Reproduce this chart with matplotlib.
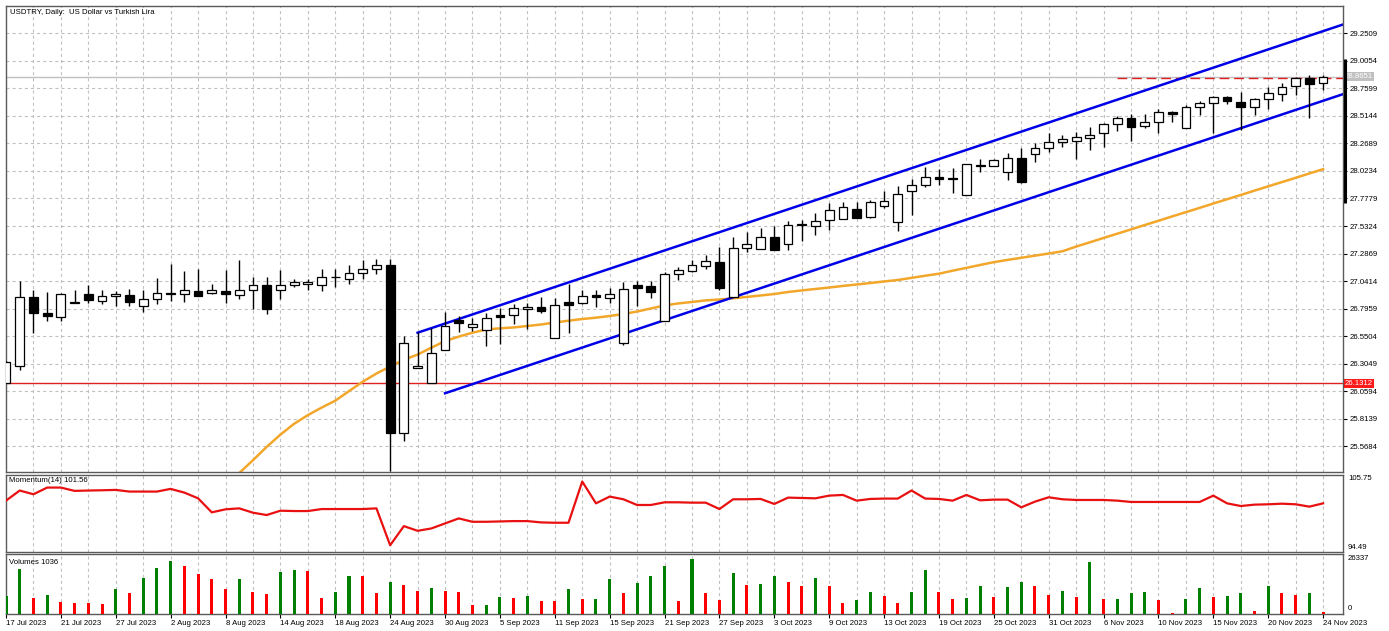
import numpy as np
import matplotlib.pyplot as plt
from matplotlib.transforms import blended_transform_factory

plt.rcParams['font.family'] = ['Liberation Sans', 'DejaVu Sans']
plt.rcParams['lines.scale_dashes'] = False

# daily USDTRY bars, 17 Jul 2023 .. 24 Nov 2023
opens = [26.131, 26.281, 26.898, 26.760, 26.718, 26.844, 26.922, 26.865, 26.907, 26.913,
         26.820, 26.883, 26.937, 26.925, 26.952, 26.934, 26.952, 26.919, 26.958, 27.002,
         26.958, 27.006, 27.012, 27.002, 27.074, 27.062, 27.113, 27.152, 27.182, 25.685,
         26.263, 26.131, 26.425, 26.694, 26.631, 26.601, 26.741, 26.738, 26.788, 26.806,
         26.538, 26.854, 26.845, 26.913, 26.892, 26.491, 27.006, 26.997, 26.684, 27.107,
         27.131, 27.180, 27.212, 26.900, 27.340, 27.331, 27.436, 27.370, 27.537, 27.531,
         27.584, 27.599, 27.680, 27.614, 27.709, 27.570, 27.843, 27.894, 27.971, 27.956,
         27.808, 28.072, 28.063, 28.016, 28.141, 28.171, 28.224, 28.278, 28.293, 28.313,
         28.364, 28.438, 28.492, 28.423, 28.462, 28.549, 28.403, 28.596, 28.626, 28.680,
         28.641, 28.596, 28.662, 28.709, 28.781, 28.849, 28.810]
highs = [26.330, 27.038, 26.958, 26.946, 26.937, 26.958, 27.002, 26.958, 26.952, 26.973,
         26.964, 27.068, 27.197, 27.128, 27.152, 27.017, 27.137, 27.227, 27.077, 27.077,
         27.137, 27.062, 27.062, 27.152, 27.152, 27.182, 27.227, 27.242, 27.242, 26.553,
         26.584, 26.623, 26.763, 26.733, 26.714, 26.759, 26.797, 26.833, 26.848, 26.898,
         26.887, 27.012, 26.958, 26.958, 26.982, 27.035, 27.041, 27.041, 27.125, 27.166,
         27.226, 27.272, 27.346, 27.430, 27.480, 27.519, 27.531, 27.576, 27.584, 27.644,
         27.739, 27.748, 27.748, 27.763, 27.843, 27.888, 27.948, 28.061, 28.037, 28.046,
         28.081, 28.126, 28.126, 28.180, 28.224, 28.275, 28.364, 28.343, 28.373, 28.418,
         28.447, 28.513, 28.531, 28.531, 28.572, 28.560, 28.611, 28.650, 28.691, 28.691,
         28.727, 28.671, 28.775, 28.805, 28.858, 28.879, 28.879]
lows = [26.131, 26.248, 26.574, 26.688, 26.682, 26.844, 26.847, 26.838, 26.823, 26.817,
        26.763, 26.838, 26.868, 26.853, 26.904, 26.925, 26.844, 26.883, 26.793, 26.748,
        26.883, 26.987, 26.964, 26.952, 26.987, 27.012, 27.062, 27.107, 25.345, 25.616,
        26.263, 26.131, 26.425, 26.583, 26.595, 26.461, 26.482, 26.660, 26.610, 26.759,
        26.538, 26.580, 26.833, 26.809, 26.848, 26.470, 26.818, 26.887, 26.684, 27.047,
        27.125, 27.153, 26.965, 26.900, 27.302, 27.331, 27.317, 27.317, 27.400, 27.451,
        27.495, 27.599, 27.608, 27.608, 27.689, 27.486, 27.629, 27.882, 27.897, 27.828,
        27.808, 28.016, 28.063, 27.947, 27.912, 28.099, 28.194, 28.239, 28.129, 28.209,
        28.239, 28.382, 28.293, 28.403, 28.364, 28.462, 28.403, 28.522, 28.358, 28.617,
        28.388, 28.522, 28.572, 28.650, 28.700, 28.492, 28.745]
closes = [26.320, 26.898, 26.757, 26.727, 26.928, 26.859, 26.874, 26.904, 26.922, 26.856,
          26.883, 26.937, 26.928, 26.964, 26.910, 26.961, 26.928, 26.958, 27.002, 26.793,
          27.009, 27.030, 27.030, 27.077, 27.080, 27.116, 27.152, 27.182, 25.685, 26.488,
          26.281, 26.398, 26.640, 26.664, 26.663, 26.708, 26.723, 26.797, 26.806, 26.771,
          26.830, 26.824, 26.910, 26.898, 26.928, 26.967, 26.976, 26.946, 27.101, 27.137,
          27.181, 27.224, 26.980, 27.337, 27.376, 27.430, 27.317, 27.540, 27.546, 27.576,
          27.674, 27.704, 27.608, 27.742, 27.757, 27.817, 27.894, 27.971, 27.953, 27.950,
          28.081, 28.067, 28.120, 28.141, 27.927, 28.224, 28.278, 28.305, 28.322, 28.340,
          28.438, 28.492, 28.418, 28.462, 28.551, 28.534, 28.590, 28.632, 28.680, 28.650,
          28.590, 28.662, 28.715, 28.769, 28.849, 28.799, 28.8651]

# moving average (orange), visible from bar 17 on
ma_first_bar = 17
ma_values = [25.330, 25.444, 25.563, 25.672, 25.769, 25.846, 25.913, 25.975, 26.060, 26.144,
             26.217, 26.279, 26.340, 26.386, 26.447, 26.506, 26.546, 26.581, 26.610, 26.620,
             26.628, 26.641, 26.654, 26.672, 26.688, 26.703, 26.715, 26.730, 26.748, 26.770,
             26.797, 26.824, 26.842, 26.855, 26.869, 26.877, 26.888, 26.900, 26.913, 26.926,
             26.944, 26.958, 26.971, 26.984, 26.998, 27.011, 27.024, 27.038, 27.051, 27.070,
             27.089, 27.107, 27.134, 27.159, 27.185, 27.210, 27.230, 27.249, 27.268, 27.287,
             27.307, 27.349, 27.387, 27.426, 27.464, 27.502, 27.541, 27.579, 27.618, 27.656,
             27.694, 27.733, 27.771, 27.809, 27.848, 27.886, 27.924, 27.962, 28.001, 28.039]

momentum = [101.95, 103.42, 102.88, 103.85, 103.85, 103.37, 103.42, 103.46, 103.51, 103.27,
            103.27, 103.27, 103.66, 103.12, 102.29, 100.25, 100.69, 100.83, 100.20, 99.86,
            100.49, 100.44, 100.44, 100.73, 100.73, 100.73, 100.73, 100.83, 95.47, 98.25,
            97.57, 97.91, 98.64, 99.37, 98.88, 98.88, 98.93, 98.98, 98.98, 98.79,
            98.74, 98.74, 104.73, 101.56, 102.54, 102.15, 101.32, 101.32, 101.71, 101.71,
            101.66, 101.66, 100.73, 102.15, 102.15, 102.20, 101.47, 102.39, 102.34, 102.29,
            102.68, 102.78, 101.95, 102.20, 102.25, 102.25, 103.42, 102.25, 102.20, 101.95,
            102.78, 102.00, 102.10, 102.10, 100.98, 101.81, 102.44, 102.15, 102.05, 102.05,
            102.05, 101.95, 101.76, 101.76, 101.76, 101.76, 101.76, 101.76, 102.68, 101.56,
            101.17, 101.37, 101.42, 101.51, 101.42, 101.08, 101.56]

volumes = [8700, 21800, 7850, 9150, 5780, 5450, 5450, 4970, 12040, 9950,
           17500, 22000, 25350, 23100, 19100, 16690, 12040, 16690, 10430, 9630,
           20220, 21190, 20700, 7850, 10750, 18300, 18300, 9950, 15250, 14130,
           11240, 12520, 11240, 10750, 4330, 4170, 8030, 7540, 8670, 6260,
           6260, 12040, 7220, 7220, 17010, 9950, 14930, 18300, 23100, 6260,
           26337, 9950, 6740, 19890, 13810, 14450, 18300, 15410, 13480, 17500,
           13480, 5140, 6740, 10430, 8830, 5140, 10430, 21190, 10430, 7220,
           7540, 13320, 8350, 12840, 15250, 13320, 9150, 11240, 8350, 25200,
           7220, 7300, 9950, 10750, 6740, 300, 7220, 12360, 8350, 8450,
           10270, 1440, 13640, 9950, 9150, 10270, 1036]
# g = green (volume up), r = red, in groups of ten bars
volume_up = "".join(["ggrgrrrrgr", "gggrrrrgrr", "ggrrggrrgr", "rgrrrggrgr", "rgrggrgggr",
                     "grrgrggrrg", "rrggrrggrr", "ggrggrrgrg", "rgggrrggrg", "grgrrgr"])

date_labels = ["17 Jul 2023", "21 Jul 2023", "27 Jul 2023", "2 Aug 2023", "8 Aug 2023",
               "14 Aug 2023", "18 Aug 2023", "24 Aug 2023", "30 Aug 2023", "5 Sep 2023",
               "11 Sep 2023", "15 Sep 2023", "21 Sep 2023", "27 Sep 2023", "3 Oct 2023",
               "9 Oct 2023", "13 Oct 2023", "19 Oct 2023", "25 Oct 2023", "31 Oct 2023",
               "6 Nov 2023", "10 Nov 2023", "15 Nov 2023", "20 Nov 2023", "24 Nov 2023"]
price_ticks = [29.2509, 29.0054, 28.7599, 28.5144, 28.2689, 28.0234, 27.7779, 27.5324,
               27.2869, 27.0414, 26.7959, 26.5504, 26.3049, 26.0594, 25.8139, 25.5684]

# drawn objects
channel_upper = ([30, 97.45], [26.581, 29.329])
channel_lower = ([32, 97.45], [26.041, 28.708])
support_level = 26.1312
resistance_level, resistance_from = 28.849, 81
last_price = 28.8651
mom_range = (94.49, 105.75)
vol_max = 26337

W, H = 1389, 631
fig = plt.figure(figsize=(W / 100, H / 100), dpi=100)


def box(l, t, r, b):
    return [l / W, 1 - b / H, (r - l) / W, (b - t) / H]


ax = fig.add_axes(box(6, 6, 1343, 472))
axm = fig.add_axes(box(6, 474.5, 1343, 552))
axv = fig.add_axes(box(6, 554, 1343, 614))

x = np.arange(len(closes))
o, h, l, c = map(np.array, (opens, highs, lows, closes))
XMAX = 97.45
grid_kw = dict(color='#c0c0c0', lw=0.8, ls=(0, (2.2, 2.2)), zorder=0)
edge = '#5a5a5a'
fs = 5.6

for a in (ax, axm, axv):
    a.set_xlim(0, XMAX)
    for xi in range(2, len(x), 2):
        a.axvline(xi, **grid_kw)
    for s in a.spines.values():
        s.set_color(edge)
        s.set_linewidth(1)
    a.set_yticks([])
    a.set_xticks([])

# ---- price pane
ax.set_ylim(25.339, 29.494)
for p in price_ticks:
    ax.axhline(p, **grid_kw)
ax.axhline(last_price, color='#c0c0c0', lw=1, zorder=1)
ax.axhline(support_level, color='#e02020', lw=1, zorder=1)
ax.hlines(resistance_level, resistance_from, XMAX, color='#e02020', lw=1,
          ls=(0, (7, 3.5)), zorder=1)

ma_x = np.arange(ma_first_bar, ma_first_bar + len(ma_values))
ax.plot(ma_x, ma_values, color='#f2a72b', lw=1.8, zorder=2)
ax.plot(*channel_upper, color='#0000e6', lw=1.8, zorder=2)
ax.plot(*channel_lower, color='#0000e6', lw=1.8, zorder=2)

up = c >= o
ax.vlines(x, l, h, color='black', lw=1, zorder=3)
ax.bar(x, np.maximum(np.abs(c - o), 0.003), bottom=np.minimum(o, c), width=0.64,
       color=np.where(up, 'white', 'black'), edgecolor='black', linewidth=0.9, zorder=4)

ax.yaxis.tick_right()
ax.set_yticks(price_ticks)
ax.set_yticklabels([f"{p:.4f}" for p in price_ticks])
ax.tick_params(axis='y', length=3, width=0.8, pad=1.5, labelsize=fs, colors='black')

tr = blended_transform_factory(ax.transAxes, ax.transData)
ax.text(1 + 2 / 1337, last_price, f"{last_price:.4f}", transform=tr, ha='left',
        va='center', fontsize=fs, color='white', zorder=10, clip_on=False,
        bbox=dict(fc='#c0c0c0', ec='none', pad=0.6))
ax.text(1 + 2 / 1337, support_level, f"{support_level:.4f}", transform=tr, ha='left',
        va='center', fontsize=fs, color='white', zorder=10, clip_on=False,
        bbox=dict(fc='#ff1a1a', ec='none', pad=0.6))
ax.plot([XMAX + 0.12, XMAX + 0.12], [29.02, 27.74], color='black', lw=2.2,
        solid_capstyle='butt', clip_on=False, zorder=10)
ax.text(4 / 1337, 1 - 6 / 466, "USDTRY, Daily:  US Dollar vs Turkish Lira",
        transform=ax.transAxes, ha='left', va='center', fontsize=fs)

# ---- momentum pane
axm.set_ylim(*mom_range)
axm.plot(x, momentum, color='#e81010', lw=1.6, zorder=3)
axm.text(3 / 1337, 1 - 6.5 / 77.5, f"Momentum(14) {momentum[-1]:.2f}",
         transform=axm.transAxes, ha='left', va='center', fontsize=fs)
axm.text(1 + 5 / 1337, 1 - 4.5 / 77.5, f"{mom_range[1]:.2f}", transform=axm.transAxes,
         ha='left', va='center', fontsize=fs, clip_on=False)
axm.text(1 + 5 / 1337, 4.5 / 77.5, f"{mom_range[0]:.2f}", transform=axm.transAxes,
         ha='left', va='center', fontsize=fs, clip_on=False)

# ---- volume pane
axv.set_ylim(0, vol_max * 60 / 54.7)
axv.bar(x, volumes, width=0.22,
        color=['#008000' if k == 'g' else '#ff0000' for k in volume_up], zorder=3)
axv.text(3 / 1337, 1 - 8 / 60, f"Volumes {volumes[-1]}", transform=axv.transAxes,
         ha='left', va='center', fontsize=fs)
axv.text(1 + 5 / 1337, 1 - 5 / 60, f"{vol_max}", transform=axv.transAxes,
         ha='left', va='center', fontsize=fs, clip_on=False)
axv.text(1 + 5 / 1337, 5 / 60, "0", transform=axv.transAxes,
         ha='left', va='center', fontsize=fs, clip_on=False)
axv.set_xticks(range(0, 4 * len(date_labels), 4))
axv.set_xticklabels(date_labels, ha='left', fontsize=fs)
axv.tick_params(axis='x', length=3, width=0.8, pad=1, colors='black')

fig.savefig('out.png', dpi=100, facecolor='white')
